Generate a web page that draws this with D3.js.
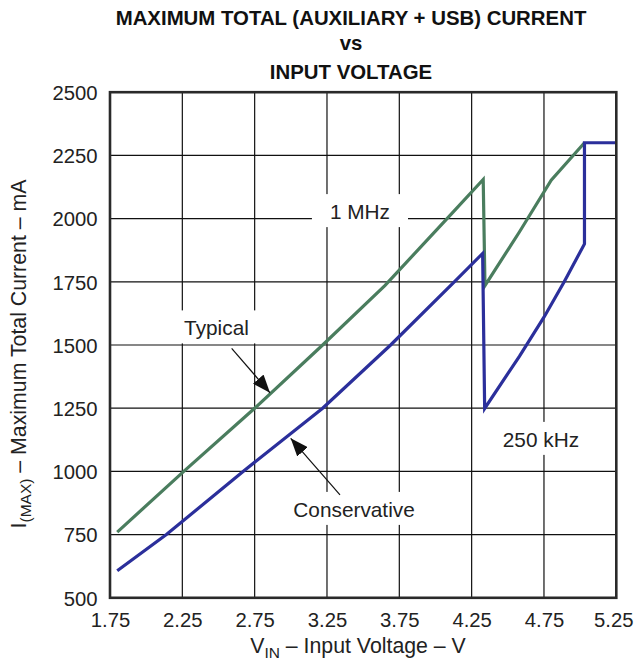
<!DOCTYPE html>
<html>
<head>
<meta charset="utf-8">
<script src="https://cdn.jsdelivr.net/npm/d3@7"></script>
<style>
  html, body { margin: 0; padding: 0; background: #fff; }
  svg { display: block; font-family: "Liberation Sans", Arial, Helvetica, sans-serif; }
</style>
</head>
<body>
<svg id="chart" width="635" height="665"></svg>
<script>
// ---- data ----
const titleLines = ["MAXIMUM TOTAL (AUXILIARY + USB) CURRENT", "vs", "INPUT VOLTAGE"];
const xTicks = [1.75, 2.25, 2.75, 3.25, 3.75, 4.25, 4.75, 5.25];
const yTicks = [500, 750, 1000, 1250, 1500, 1750, 2000, 2250, 2500];

// Typical (1 MHz) curve
const typicalV = [1.80, 2.26, 2.75, 3.22, 3.65, 4.08, 4.33, 4.342, 4.58, 4.80, 5.03];
const typicalI = [760, 1000, 1250, 1500, 1735, 2000, 2155, 1735, 1947, 2152, 2300];

// Conservative (250 kHz) curve
const consV = [1.80, 2.14, 2.67, 3.22, 3.69, 4.13, 4.326, 4.34, 4.58, 4.75, 4.89, 5.03, 5.03, 5.25];
const consI = [607, 750, 1000, 1250, 1500, 1750, 1862, 1249, 1455, 1610, 1750, 1900, 2300, 2300];

// annotation texts (anchored in data units)
const labelText = ["1 MHz", "Typical", "250 kHz", "Conservative"];
const labelV = [3.478, 2.486, 4.729, 3.437];
const labelI = [1998, 1538, 1097, 820];
// arrows: from (V, I) to (V, I)
const arrowFromV = [2.591, 3.340];
const arrowFromI = [1487, 907];
const arrowToV = [2.856, 2.999];
const arrowToI = [1311, 1131];

// ---- layout ----
const svg = d3.select("#chart");
const W = 635;
const pL = 110, pR = 616.3, pT = 92.2, pB = 597.8;
const x = d3.scaleLinear().domain([1.75, 5.25]).range([pL, pR]);
const y = d3.scaleLinear().domain([500, 2500]).range([pB, pT]);

// title
svg.append("g").selectAll("text").data(titleLines).join("text")
  .attr("x", 351).attr("y", (d, i) => [25, 50, 79][i])
  .attr("text-anchor", "middle")
  .attr("font-weight", "bold").attr("font-size", 20.4)
  .attr("fill", "#111")
  .text(d => d);

// grid
const grid = svg.append("g");
grid.selectAll("line.gx").data(xTicks.slice(1, -1)).join("line")
  .attr("class", "gx")
  .attr("x1", d => x(d)).attr("x2", d => x(d))
  .attr("y1", pT).attr("y2", pB)
  .attr("stroke", "#111").attr("stroke-width", 1.2);
grid.selectAll("line.gy").data(yTicks.slice(1, -1)).join("line")
  .attr("class", "gy")
  .attr("x1", pL).attr("x2", pR)
  .attr("y1", d => y(d)).attr("y2", d => y(d))
  .attr("stroke", "#111").attr("stroke-width", 1.2);

// axes (labels only)
const xAxis = d3.axisBottom(x).tickValues(xTicks).tickSize(0).tickPadding(0).tickFormat(d3.format(".2f"));
const gx = svg.append("g").attr("transform", `translate(0,${pB})`).call(xAxis);
gx.select(".domain").remove();
gx.selectAll("text").attr("font-size", 20.3).attr("font-family", null)
  .attr("fill", "#222").attr("dy", null).attr("y", 29.5);
// keep the last label inside the page
gx.selectAll(".tick").filter(d => d === xTicks[xTicks.length - 1]).select("text")
  .attr("text-anchor", "end").attr("x", (W - 2) - x(xTicks[xTicks.length - 1]));

const yAxis = d3.axisLeft(y).tickValues(yTicks).tickSize(0).tickPadding(0).tickFormat(d3.format("d"));
const gy = svg.append("g").attr("transform", `translate(${pL},0)`).call(yAxis);
gy.select(".domain").remove();
gy.selectAll("text").attr("font-size", 20.3).attr("font-family", null)
  .attr("fill", "#222").attr("x", -12.5).attr("dy", "0.36em");

// annotation white boxes and texts
const ann = svg.append("g");
const annData = labelText.map((t, i) => ({t, v: labelV[i], c: labelI[i]}));
const annT = ann.selectAll("text").data(annData).join("text")
  .attr("x", d => x(d.v)).attr("y", d => y(d.c))
  .attr("text-anchor", "middle").attr("font-size", 20.8).attr("fill", "#222")
  .text(d => d.t);
annT.each(function() {
  const b = this.getBBox();
  ann.insert("rect", "text")
    .attr("x", b.x - 18).attr("y", b.y - 6)
    .attr("width", b.width + 36).attr("height", b.height + 10)
    .attr("fill", "#fff");
});

// curves
const line = d3.line().x(d => x(d[0])).y(d => y(d[1]));
const typical = typicalV.map((v, i) => [v, typicalI[i]]);
const cons = consV.map((v, i) => [v, consI[i]]);
svg.append("path").datum(typical).attr("d", line)
  .attr("fill", "none").attr("stroke", "#4a7d5e").attr("stroke-width", 3.2)
  .attr("stroke-linejoin", "miter");
svg.append("path").datum(cons).attr("d", line)
  .attr("fill", "none").attr("stroke", "#2b2f9b").attr("stroke-width", 3.2)
  .attr("stroke-linejoin", "miter");

// arrows
const defs = svg.append("defs");
defs.append("marker").attr("id", "ah")
  .attr("markerUnits", "userSpaceOnUse")
  .attr("viewBox", "0 0 18 14").attr("refX", 18).attr("refY", 7)
  .attr("markerWidth", 18).attr("markerHeight", 14).attr("orient", "auto")
  .append("path").attr("d", "M0,0 L18,7 L0,14 Z").attr("fill", "#111");
svg.append("g").selectAll("line").data(arrowFromV.map((v, i) => i)).join("line")
  .attr("x1", i => x(arrowFromV[i])).attr("y1", i => y(arrowFromI[i]))
  .attr("x2", i => x(arrowToV[i])).attr("y2", i => y(arrowToI[i]))
  .attr("stroke", "#111").attr("stroke-width", 1.2)
  .attr("marker-end", "url(#ah)");

// frame
svg.append("rect").attr("x", pL).attr("y", pT)
  .attr("width", pR - pL).attr("height", pB - pT)
  .attr("fill", "none").attr("stroke", "#2a2a2a").attr("stroke-width", 2.6);

// axis titles
const xt = svg.append("text").attr("x", 358).attr("y", 653)
  .attr("text-anchor", "middle").attr("font-size", 21.3).attr("fill", "#222");
xt.append("tspan").text("V");
xt.append("tspan").attr("font-size", 15.5).attr("dy", 5).text("IN");
xt.append("tspan").attr("dy", -5).text(" – Input Voltage – V");

const yt = svg.append("text")
  .attr("transform", "translate(26,354) rotate(-90)")
  .attr("text-anchor", "middle").attr("font-size", 21.3).attr("fill", "#222");
yt.append("tspan").text("I");
yt.append("tspan").attr("font-size", 15.5).attr("dy", 5).text("(MAX)");
yt.append("tspan").attr("dy", -5).text(" – Maximum Total Current – mA");
</script>
</body>
</html>
